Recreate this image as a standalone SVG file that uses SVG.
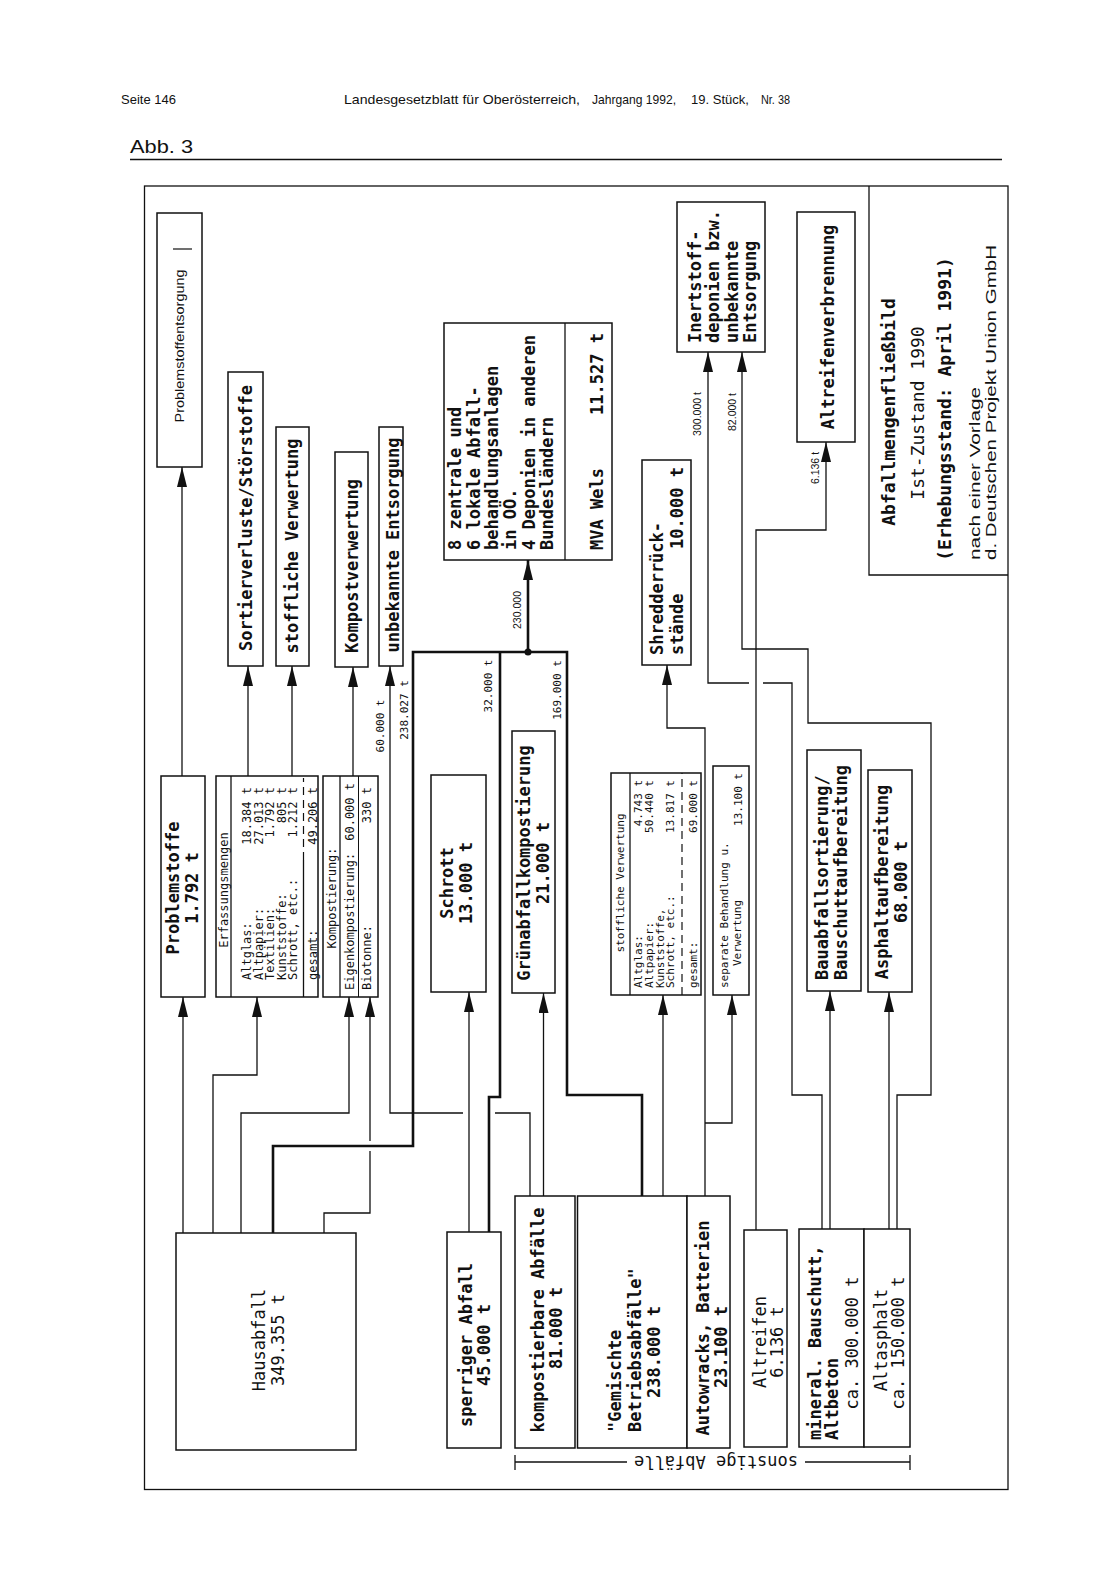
<svg xmlns="http://www.w3.org/2000/svg" width="1109" height="1586" viewBox="0 0 1109 1586">
<style>
text{fill:#111;dominant-baseline:central}
.hd{font-family:"Liberation Sans",Arial,sans-serif;font-size:13px;dominant-baseline:alphabetic}
.b{font-family:"DejaVu Sans Mono",monospace;font-size:17px;font-weight:bold;text-anchor:middle}
.r{font-family:"DejaVu Sans Mono",monospace;font-size:17px;text-anchor:middle}
.s{font-family:"DejaVu Sans Mono",monospace;font-size:12px;text-anchor:middle}
.xs{font-family:"DejaVu Sans Mono",monospace;font-size:11px;text-anchor:middle}
.lb{font-family:"Liberation Sans",Arial,sans-serif;font-size:10.5px;text-anchor:middle}
.sn{font-family:"Liberation Sans",Arial,sans-serif;font-size:15px;text-anchor:start}
.thin{font-family:"Liberation Sans",Arial,sans-serif;font-size:13px;text-anchor:middle}
.st{text-anchor:start}
.en{text-anchor:end}
.bx{fill:#fff;stroke:#111;stroke-width:1.5}
.ln{fill:none;stroke:#111;stroke-width:1.3}
.th{fill:none;stroke:#111;stroke-width:2.6}
.ds{fill:none;stroke:#111;stroke-width:1.2;stroke-dasharray:8 5}
</style>
<defs>
<marker id="ah" markerUnits="userSpaceOnUse" markerWidth="20" markerHeight="10" viewBox="0 0 20 10" refX="20" refY="5" orient="auto">
<path d="M0,0 L20,5 L0,10 Z" fill="#111"/>
</marker>
</defs>
<rect width="1109" height="1586" fill="#fff"/>

<g id="header">
<text class="hd" x="121" y="104">Seite 146</text>
<text class="hd" x="344" y="104" textLength="236" lengthAdjust="spacingAndGlyphs">Landesgesetzblatt für Oberösterreich,</text>
<text class="hd" x="592" y="104" textLength="84" lengthAdjust="spacingAndGlyphs">Jahrgang 1992,</text>
<text class="hd" x="691" y="104" textLength="58" lengthAdjust="spacingAndGlyphs">19. Stück,</text>
<text class="hd" x="761" y="104" textLength="29" lengthAdjust="spacingAndGlyphs">Nr. 38</text>
<text class="hd" x="130" y="153" style="font-size:19px" textLength="63" lengthAdjust="spacingAndGlyphs">Abb. 3</text>
<line x1="130" y1="159.5" x2="1002" y2="159.5" stroke="#111" stroke-width="1.4"/>
</g>

<rect x="144.5" y="186" width="863.5" height="1303.5" fill="none" stroke="#111" stroke-width="1.3"/>

<g id="connectors">
<path class="ln" d="M183,1233 V997" marker-end="url(#ah)"/>
<path class="ln" d="M182,776 V467" marker-end="url(#ah)"/>
<path class="ln" d="M213,1233 V1075 H257 V997" marker-end="url(#ah)"/>
<path class="ln" d="M241,1233 V1113 H349 V997" marker-end="url(#ah)"/>
<path class="th" d="M273,1233 V1146 H413 V652 H567 V1095 H642 V1196"/>
<path class="ln" d="M324,1233 V1213 H370 V1151"/>
<path class="ln" d="M370,1141 V997" marker-end="url(#ah)"/>
<path class="ln" d="M248,776 V666" marker-end="url(#ah)"/>
<path class="ln" d="M292,776 V666" marker-end="url(#ah)"/>
<path class="ln" d="M353,776 V667" marker-end="url(#ah)"/>
<path class="ln" d="M530,1196 V1113 H495"/>
<path class="ln" d="M463,1113 H390 V666" marker-end="url(#ah)"/>
<path class="ln" d="M469,1232 V992" marker-end="url(#ah)"/>
<path class="th" d="M489,1232 V1097 H500 V652"/>
<path class="ln" d="M543.5,1196 V993" marker-end="url(#ah)"/>
<path class="th" d="M528,652 V560" marker-end="url(#ah)"/>
<circle cx="528" cy="652" r="3.5" fill="#111"/>
<path class="ln" d="M663,1196 V995" marker-end="url(#ah)"/>
<path class="ln" d="M705,1196 V728 H667 V665" marker-end="url(#ah)"/>
<path class="ln" d="M705,1123 H732 V995" marker-end="url(#ah)"/>
<path class="ln" d="M756,1230 V530 H826 V442" marker-end="url(#ah)"/>
<path class="ln" d="M822,1229 V1095 H792 V683 H763"/>
<path class="ln" d="M749,683 H708 V352" marker-end="url(#ah)"/>
<path class="ln" d="M830,1229 V991" marker-end="url(#ah)"/>
<path class="ln" d="M889,1229 V992" marker-end="url(#ah)"/>
<path class="ln" d="M897,1229 V1095 H931 V723 H808 V649 H742 V352" marker-end="url(#ah)"/>
</g>

<g id="flow-labels">
<text class="xs" transform="translate(380,726) rotate(-90)">60.000 t</text>
<text class="xs" transform="translate(404,710) rotate(-90)">238.027 t</text>
<text class="xs" transform="translate(488,686) rotate(-90)">32.000 t</text>
<text class="xs" transform="translate(557,690) rotate(-90)">169.000 t</text>
<text class="lb" transform="translate(517,610) rotate(-90)">230.000</text>
<text class="lb" transform="translate(697,414) rotate(-90)">300.000 t</text>
<text class="lb" transform="translate(732,412) rotate(-90)">82.000 t</text>
<text class="lb" transform="translate(815,468) rotate(-90)">6.136 t</text>
</g>

<g id="n-problemstoffentsorgung">
<rect class="bx" x="157" y="213" width="45" height="254"/>
<text class="thin" transform="translate(179,346) rotate(-90)" textLength="153" lengthAdjust="spacingAndGlyphs">Problemstoffentsorgung</text>
<line x1="173" y1="249" x2="192" y2="249" stroke="#111" stroke-width="1.2"/>
</g>

<g id="n-problemstoffe">
<rect class="bx" x="161" y="776" width="44" height="221"/>
<text class="b" transform="translate(173,888) rotate(-90)">Problemstoffe</text>
<text class="b" transform="translate(192,888) rotate(-90)">1.792 t</text>
</g>

<g id="n-erfassungsmengen">
<rect class="bx" x="216" y="776" width="102" height="221"/>
<line class="ln" x1="231" y1="776" x2="231" y2="997"/>
<text class="s" transform="translate(224,890) rotate(-90)">Erfassungsmengen</text>
<text class="s st" transform="translate(247,980) rotate(-90)">Altglas:</text>
<text class="s en" transform="translate(247,787) rotate(-90)">18.384 t</text>
<text class="s st" transform="translate(258.5,980) rotate(-90)">Altpapier:</text>
<text class="s en" transform="translate(258.5,787) rotate(-90)">27.013 t</text>
<text class="s st" transform="translate(270,980) rotate(-90)">Textilien:</text>
<text class="s en" transform="translate(270,787) rotate(-90)">1.792 t</text>
<text class="s st" transform="translate(281.5,980) rotate(-90)">Kunststoffe:</text>
<text class="s en" transform="translate(281.5,787) rotate(-90)">805 t</text>
<text class="s st" transform="translate(293,980) rotate(-90)">Schrott, etc.:</text>
<text class="s en" transform="translate(293,787) rotate(-90)">1.212 t</text>
<line class="ln" x1="303.5" y1="997" x2="303.5" y2="860"/>
<line class="ds" x1="303.5" y1="860" x2="303.5" y2="778"/>
<text class="s st" transform="translate(313,980) rotate(-90)">gesamt:</text>
<text class="s en" transform="translate(313,787) rotate(-90)">49.206 t</text>
</g>

<g id="n-kompostierung">
<rect class="bx" x="323" y="776" width="55" height="221"/>
<line class="ln" x1="340" y1="776" x2="340" y2="997"/>
<line x1="358.5" y1="776" x2="358.5" y2="997" stroke="#111" stroke-width="1"/>
<text class="s" transform="translate(331.5,898) rotate(-90)">Kompostierung:</text>
<text class="s st" transform="translate(349.5,990) rotate(-90)">Eigenkompostierung:</text>
<text class="s en" transform="translate(349.5,783) rotate(-90)">60.000 t</text>
<text class="s st" transform="translate(367,990) rotate(-90)">Biotonne:</text>
<text class="s en" transform="translate(367,787) rotate(-90)">330 t</text>
</g>

<g id="n-sortierverluste">
<rect class="bx" x="228" y="372" width="35" height="294"/>
<text class="b" transform="translate(246,518) rotate(-90)">Sortierverluste/Störstoffe</text>
</g>

<g id="n-stoffliche-verwertung">
<rect class="bx" x="276" y="427" width="33" height="239"/>
<text class="b" transform="translate(292,546) rotate(-90)">stoffliche Verwertung</text>
</g>

<g id="n-kompostverwertung">
<rect class="bx" x="335" y="452" width="33" height="215"/>
<text class="b" transform="translate(352,566) rotate(-90)">Kompostverwertung</text>
</g>

<g id="n-unbekannte-entsorgung">
<rect class="bx" x="379" y="427" width="24" height="239"/>
<text class="b" transform="translate(393,545) rotate(-90)">unbekannte Entsorgung</text>
</g>

<g id="n-schrott">
<rect class="bx" x="431" y="775" width="55" height="217"/>
<text class="b" transform="translate(447,883) rotate(-90)">Schrott</text>
<text class="b" transform="translate(466,883) rotate(-90)">13.000 t</text>
</g>

<g id="n-gruenabfall">
<rect class="bx" x="512" y="731" width="43" height="262"/>
<text class="b" transform="translate(524,863) rotate(-90)">Grünabfallkompostierung</text>
<text class="b" transform="translate(543,863) rotate(-90)">21.000 t</text>
</g>

<g id="n-stoffliche-tabelle">
<rect class="bx" x="611" y="773" width="90" height="222"/>
<line class="ln" x1="630" y1="773" x2="630" y2="995"/>
<text class="xs" transform="translate(620,883) rotate(-90)">stoffliche Verwertung</text>
<text class="xs st" transform="translate(638,988) rotate(-90)">Altglas:</text>
<text class="xs en" transform="translate(638,780) rotate(-90)">4.743 t</text>
<text class="xs st" transform="translate(649.5,988) rotate(-90)">Altpapier:</text>
<text class="xs en" transform="translate(649.5,780) rotate(-90)">50.440 t</text>
<text class="xs st" transform="translate(660,988) rotate(-90)">Kunststoffe,</text>
<text class="xs st" transform="translate(670.5,988) rotate(-90)">Schrott, etc.:</text>
<text class="xs en" transform="translate(670.5,780) rotate(-90)">13.817 t</text>
<line class="ds" x1="682" y1="995" x2="682" y2="773"/>
<text class="xs st" transform="translate(693,988) rotate(-90)">gesamt:</text>
<text class="xs en" transform="translate(693,780) rotate(-90)">69.000 t</text>
</g>

<g id="n-separate-behandlung">
<rect class="bx" x="713" y="766" width="36" height="229"/>
<text class="xs st" transform="translate(724,988) rotate(-90)">separate Behandlung u.</text>
<text class="xs" transform="translate(737,933) rotate(-90)">Verwertung</text>
<text class="xs en" transform="translate(738,773) rotate(-90)">13.100 t</text>
</g>

<g id="n-shredder">
<rect class="bx" x="642" y="460" width="49" height="205"/>
<text class="b st" transform="translate(657,655) rotate(-90)">Shredderrück-</text>
<text class="b st" transform="translate(677,655) rotate(-90)">stände</text>
<text class="b en" transform="translate(677,467) rotate(-90)">10.000 t</text>
</g>

<g id="n-mva">
<rect class="bx" x="444" y="323" width="168" height="237"/>
<line class="ln" x1="565" y1="323" x2="565" y2="560"/>
<text class="b st" transform="translate(455,550) rotate(-90)">8 zentrale und</text>
<text class="b st" transform="translate(473.5,550) rotate(-90)">6 lokale Abfall-</text>
<text class="b st" transform="translate(492,550) rotate(-90)">behandlungsanlagen</text>
<text class="b st" transform="translate(510,550) rotate(-90)">in OÖ.</text>
<text class="b st" transform="translate(528.5,550) rotate(-90)">4 Deponien in anderen</text>
<text class="b st" transform="translate(547,550) rotate(-90)">Bundesländern</text>
<text class="b st" transform="translate(597,550) rotate(-90)">MVA Wels</text>
<text class="b en" transform="translate(597,333) rotate(-90)">11.527 t</text>
</g>

<g id="n-inertstoff">
<rect class="bx" x="677" y="202" width="88" height="150"/>
<text class="b st" transform="translate(695,343) rotate(-90)">Inertstoff-</text>
<text class="b st" transform="translate(713,343) rotate(-90)">deponien bzw.</text>
<text class="b st" transform="translate(731.5,343) rotate(-90)">unbekannte</text>
<text class="b st" transform="translate(750,343) rotate(-90)">Entsorgung</text>
</g>

<g id="n-altreifenverbrennung">
<rect class="bx" x="797" y="212" width="58" height="230"/>
<text class="b" transform="translate(828,327) rotate(-90)">Altreifenverbrennung</text>
</g>

<g id="legend">
<path class="ln" d="M869,186 V575 H1008"/>
<text class="b" style="font-size:18px" transform="translate(888,412) rotate(-90)">Abfallmengenfließbild</text>
<text class="r" style="font-size:18px" transform="translate(917,413) rotate(-90)">Ist-Zustand 1990</text>
<text class="b" style="font-size:18px" transform="translate(944,409) rotate(-90)">(Erhebungsstand: April 1991)</text>
<text class="sn" transform="translate(974,560) rotate(-90)" textLength="173" lengthAdjust="spacingAndGlyphs">nach einer Vorlage</text>
<text class="sn" transform="translate(990,560) rotate(-90)" textLength="315" lengthAdjust="spacingAndGlyphs">d. Deutschen Projekt Union GmbH</text>
</g>

<g id="n-hausabfall">
<rect class="bx" x="176" y="1233" width="180" height="217"/>
<text class="r" transform="translate(259,1340) rotate(-90)">Hausabfall</text>
<text class="r" transform="translate(278,1340) rotate(-90)">349.355 t</text>
</g>

<g id="n-sperriger-abfall">
<rect class="bx" x="447" y="1232" width="54" height="216"/>
<text class="b" transform="translate(466,1345) rotate(-90)">sperriger Abfall</text>
<text class="b" transform="translate(484,1345) rotate(-90)">45.000 t</text>
</g>

<g id="n-kompostierbare">
<rect class="bx" x="515" y="1196" width="60" height="252"/>
<text class="b" transform="translate(538,1320) rotate(-90)">kompostierbare Abfälle</text>
<text class="b" transform="translate(556,1328) rotate(-90)">81.000 t</text>
</g>

<g id="n-gemischte">
<rect class="bx" x="577.5" y="1196" width="109.5" height="252"/>
<text class="b st" transform="translate(615,1432) rotate(-90)">"Gemischte</text>
<text class="b st" transform="translate(635,1432) rotate(-90)">Betriebsabfälle"</text>
<text class="b" transform="translate(654,1352) rotate(-90)">238.000 t</text>
</g>

<g id="n-autowracks">
<rect class="bx" x="687" y="1196" width="43" height="252"/>
<text class="b" transform="translate(703,1328) rotate(-90)">Autowracks, Batterien</text>
<text class="b" transform="translate(721,1347) rotate(-90)">23.100 t</text>
</g>

<g id="n-altreifen">
<rect class="bx" x="744" y="1230" width="43" height="217"/>
<text class="r" transform="translate(760,1342) rotate(-90)">Altreifen</text>
<text class="r" transform="translate(777,1342) rotate(-90)">6.136 t</text>
</g>

<g id="n-bauschutt">
<rect class="bx" x="799" y="1229" width="65" height="218"/>
<text class="b st" transform="translate(815,1440) rotate(-90)">mineral. Bauschutt,</text>
<text class="b st" transform="translate(832,1440) rotate(-90)">Altbeton</text>
<text class="r" transform="translate(852,1343) rotate(-90)">ca. 300.000 t</text>
</g>

<g id="n-altasphalt">
<rect class="bx" x="864" y="1229" width="46" height="218"/>
<text class="r" transform="translate(881,1340) rotate(-90)">Altasphalt</text>
<text class="r" transform="translate(898,1343) rotate(-90)">ca. 150.000 t</text>
</g>

<g id="n-bauabfallsortierung">
<rect class="bx" x="807" y="750" width="54" height="241"/>
<text class="b st" transform="translate(822,980) rotate(-90)">Bauabfallsortierung/</text>
<text class="b st" transform="translate(841,980) rotate(-90)">Bauschuttaufbereitung</text>
</g>

<g id="n-asphaltaufbereitung">
<rect class="bx" x="868" y="770" width="44" height="222"/>
<text class="b" transform="translate(882,882) rotate(-90)">Asphaltaufbereitung</text>
<text class="b" transform="translate(901,882) rotate(-90)">68.000 t</text>
</g>

<g id="bracket">
<path class="ln" d="M515,1455 V1470 M515,1462 H627 M805,1462 H910 M910,1455 V1470"/>
<text class="r" transform="translate(716,1462) rotate(180)">sonstige Abfälle</text>
</g>
</svg>
